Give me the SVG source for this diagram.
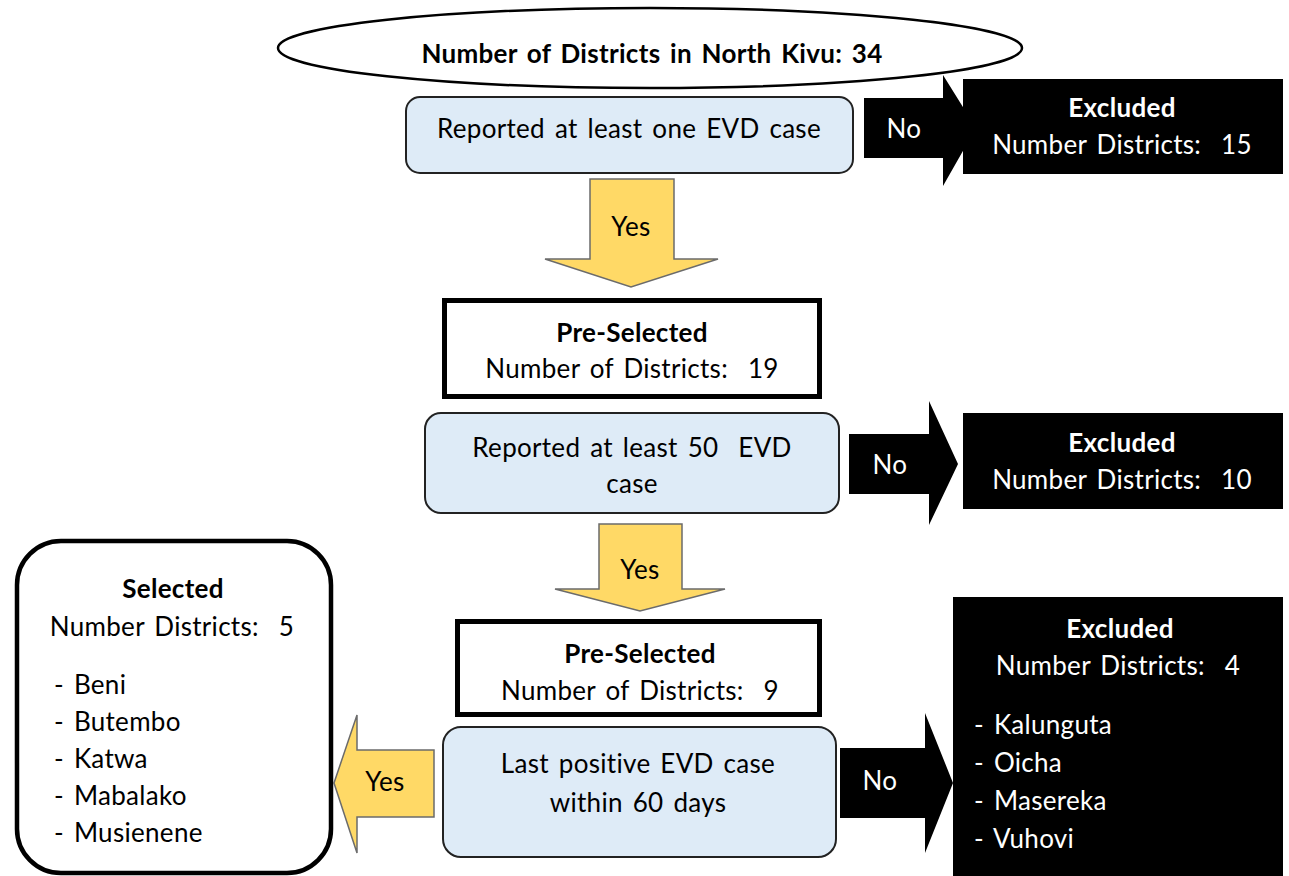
<svg xmlns="http://www.w3.org/2000/svg" width="1289" height="876" viewBox="0 0 1289 876">
<style>
text{font-family:Lato,"Liberation Sans",sans-serif;font-size:26px;fill:#000;white-space:pre;word-spacing:3px;letter-spacing:0.3px}
.b{font-weight:bold}
.w{fill:#fff}
.c{text-anchor:middle}
.blue{fill:#deebf7;stroke:#222;stroke-width:2}
.yes{fill:#ffd966;stroke:#6b6b6b;stroke-width:1.5;stroke-linejoin:miter}
.no{fill:#000}
.exc{fill:#000}
.pre{fill:#fff;stroke:#000;stroke-width:5}
</style>
<rect width="1289" height="876" fill="#fff"/>
<g id="connectors">
  <polygon class="no" points="864,98 943,98 943,75 976,128 943,186 943,158 864,158"/>
  <polygon class="yes" points="590,179 674,179 674,259 718,259 631,287 545,259 590,259"/>
  <polygon class="no" points="849,434 929,434 929,401 958,464 929,525 929,494 849,494"/>
  <polygon class="yes" points="599,524 682,524 682,589 725,589 640,611 555,589 599,589"/>
  <polygon class="no" points="840,748 925,748 925,713 953,783 925,853 925,818 840,818"/>
  <polygon class="yes" points="434,750 434,817 357,817 357,853 334,783 357,715 357,750"/>
  <text class="w c" x="904" y="138">No</text>
  <text class="c" x="631" y="236">Yes</text>
  <text class="w c" x="890" y="474">No</text>
  <text class="c" x="640" y="579">Yes</text>
  <text class="w c" x="880" y="790">No</text>
  <text class="c" x="385" y="791">Yes</text>
</g>
<g id="start">
  <ellipse cx="650" cy="48" rx="372" ry="40" fill="#fff" stroke="#000" stroke-width="2.5"/>
  <text class="b c" x="652" y="63">Number of Districts in North Kivu: 34</text>
</g>
<g id="crit1">
  <rect class="blue" x="406" y="97" width="447" height="76" rx="14"/>
  <text class="c" x="629" y="138">Reported at least one EVD case</text>
</g>
<g id="excl1">
  <rect class="exc" x="963" y="79" width="320" height="95"/>
  <text class="w b c" x="1122" y="117">Excluded</text>
  <text class="w c" x="1122" y="154">Number Districts:  15</text>
</g>
<g id="pre1">
  <rect class="pre" x="444.5" y="300.5" width="375" height="96"/>
  <text class="b c" x="632" y="342">Pre-Selected</text>
  <text class="c" x="632" y="378">Number of Districts:  19</text>
</g>
<g id="crit2">
  <rect class="blue" x="425" y="413" width="414" height="100" rx="16"/>
  <text class="c" x="632" y="457">Reported at least 50  EVD</text>
  <text class="c" x="632" y="493">case</text>
</g>
<g id="excl2">
  <rect class="exc" x="963" y="413" width="320" height="96"/>
  <text class="w b c" x="1122" y="452">Excluded</text>
  <text class="w c" x="1122" y="489">Number Districts:  10</text>
</g>
<g id="pre2">
  <rect class="pre" x="457.5" y="621.5" width="362" height="93"/>
  <text class="b c" x="640" y="663">Pre-Selected</text>
  <text class="c" x="640" y="700">Number of Districts:  9</text>
</g>
<g id="crit3">
  <rect class="blue" x="443" y="727" width="393" height="130" rx="18"/>
  <text class="c" x="638" y="773">Last positive EVD case</text>
  <text class="c" x="638" y="812">within 60 days</text>
</g>
<g id="excl3">
  <rect class="exc" x="953" y="597" width="330" height="279"/>
  <text class="w b c" x="1120" y="638">Excluded</text>
  <text class="w c" x="1118" y="675">Number Districts:  4</text>
  <text class="w" x="974" y="734">- Kalunguta</text>
  <text class="w" x="974" y="772">- Oicha</text>
  <text class="w" x="974" y="810">- Masereka</text>
  <text class="w" x="974" y="848">- Vuhovi</text>
</g>
<g id="selected">
  <rect x="17" y="541" width="314" height="332" rx="44" fill="#fff" stroke="#000" stroke-width="4.5"/>
  <text class="b c" x="173" y="598">Selected</text>
  <text class="c" x="172" y="636">Number Districts:  5</text>
  <text x="54" y="694">- Beni</text>
  <text x="54" y="731">- Butembo</text>
  <text x="54" y="768">- Katwa</text>
  <text x="54" y="805">- Mabalako</text>
  <text x="54" y="842">- Musienene</text>
</g>
</svg>
